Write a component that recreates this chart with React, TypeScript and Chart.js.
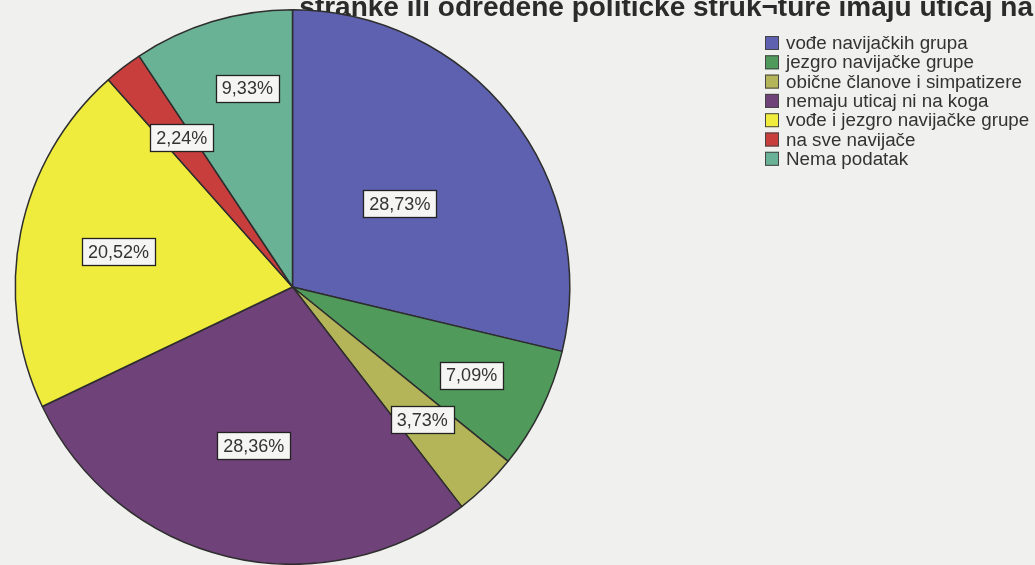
import React, { useEffect, useRef } from "react";
import { Chart, registerables } from "chart.js";

Chart.register(...registerables);

const titleText = "stranke ili određene političke struk¬ture imaju uticaj na";
const categories = [
  "vođe navijačkih grupa",
  "jezgro navijačke grupe",
  "obične članove i simpatizere",
  "nemaju uticaj ni na koga",
  "vođe i jezgro navijačke grupe",
  "na sve navijače",
  "Nema podatak",
];
const percentValues = [28.73, 7.09, 3.73, 28.36, 20.52, 2.24, 9.33];
const valueLabels = ["28,73%", "7,09%", "3,73%", "28,36%", "20,52%", "2,24%", "9,33%"];
const sliceColors = [
  "rgb(93,97,176)",
  "rgb(80,155,92)",
  "rgb(180,181,88)",
  "rgb(112,66,122)",
  "rgb(240,236,62)",
  "rgb(200,62,60)",
  "rgb(106,178,150)",
];

// label placement (fraction of radius, angle shift in degrees)
const labelRadius = [0.49, 0.72, 0.67, 0.59, 0.64, 0.67, 0.735];
const labelShift = [0.5, 0, 0, 0.3, 0, 1, 4];

const BG = "#f0f0ee";

const bgTitlePlugin = {
  id: "bgTitle",
  beforeDraw(chart: any) {
    const ctx = chart.ctx;
    ctx.save();
    ctx.fillStyle = BG;
    ctx.fillRect(0, 0, chart.width, chart.height);
    ctx.font = "bold 28px 'Liberation Sans', Arial, sans-serif";
    ctx.fillStyle = "#2b2b2b";
    ctx.textAlign = "right";
    ctx.textBaseline = "alphabetic";
    ctx.fillText(titleText, 1033, 16);
    ctx.restore();
  },
};

const labelsPlugin = {
  id: "sliceLabels",
  afterDatasetsDraw(chart: any) {
    const ctx = chart.ctx;
    const meta = chart.getDatasetMeta(0);
    ctx.save();
    ctx.font = "18px 'Liberation Sans', Arial, sans-serif";
    ctx.textAlign = "center";
    ctx.textBaseline = "middle";
    meta.data.forEach((arc: any, i: number) => {
      const p = arc.getProps(["x", "y", "startAngle", "endAngle", "outerRadius"], true);
      const mid = (p.startAngle + p.endAngle) / 2 + (labelShift[i] * Math.PI) / 180;
      const r = p.outerRadius * labelRadius[i];
      const cx = p.x + Math.cos(mid) * r;
      const cy = p.y + Math.sin(mid) * r;
      const text = valueLabels[i];
      const w = Math.round(ctx.measureText(text).width + 12);
      const h = 27;
      const bx = Math.round(cx - w / 2);
      const by = Math.round(cy - h / 2);
      ctx.fillStyle = "#f5f5f3";
      ctx.fillRect(bx, by, w, h);
      ctx.strokeStyle = "#222";
      ctx.lineWidth = 1.3;
      ctx.strokeRect(bx + 0.5, by + 0.5, w, h);
      ctx.fillStyle = "#333";
      ctx.fillText(text, cx, cy + 1);
    });
    ctx.restore();
  },
};

const legendPlugin = {
  id: "sideLegend",
  afterDraw(chart: any) {
    const ctx = chart.ctx;
    const labels = chart.data.labels as string[];
    const colors = chart.data.datasets[0].backgroundColor as string[];
    ctx.save();
    ctx.font = "18.8px 'Liberation Sans', Arial, sans-serif";
    ctx.textAlign = "left";
    ctx.textBaseline = "middle";
    const x0 = 765;
    const y0 = 43;
    const step = 19.3;
    labels.forEach((lab, i) => {
      const cy = y0 + i * step;
      ctx.fillStyle = colors[i];
      ctx.fillRect(x0, cy - 7, 14, 14);
      ctx.strokeStyle = "#444";
      ctx.lineWidth = 1;
      ctx.strokeRect(x0 + 0.5, cy - 6.5, 13, 13);
      ctx.fillStyle = "#333";
      ctx.fillText(lab, 786, cy + 1);
    });
    ctx.restore();
  },
};

export default function App() {
  const ref = useRef<HTMLCanvasElement | null>(null);
  useEffect(() => {
    document.body.style.margin = "0";
    if (!ref.current) return;
    const chart = new Chart(ref.current, {
      type: "pie",
      data: {
        labels: categories,
        datasets: [
          {
            data: percentValues,
            backgroundColor: sliceColors,
            borderColor: "#2e2e2e",
            borderWidth: 1.5,
          },
        ],
      },
      options: {
        responsive: false,
        animation: false,
        devicePixelRatio: 1,
        layout: { padding: { top: 9, left: 12, right: 462, bottom: -5 } },
        plugins: {
          legend: { display: false },
          title: { display: false },
          tooltip: { enabled: false },
        },
      },
      plugins: [bgTitlePlugin, labelsPlugin, legendPlugin],
    } as any);
    return () => chart.destroy();
  }, []);
  return (
    <div style={{ width: 1035, height: 565, background: BG }}>
      <canvas ref={ref} width={1035} height={565} style={{ display: "block" }} />
    </div>
  );
}
